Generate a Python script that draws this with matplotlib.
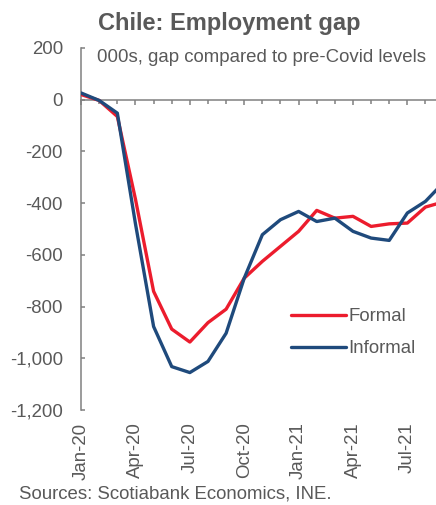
import numpy as np
import matplotlib
matplotlib.use('Agg')
import matplotlib.pyplot as plt
from matplotlib.ticker import FuncFormatter, MultipleLocator, NullFormatter

plt.rcParams['font.family'] = ['Liberation Sans', 'DejaVu Sans']

# monthly, Jan-20 .. Sep-21 (000s vs pre-Covid)
months = ['Jan-20', 'Feb-20', 'Mar-20', 'Apr-20', 'May-20', 'Jun-20', 'Jul-20',
          'Aug-20', 'Sep-20', 'Oct-20', 'Nov-20', 'Dec-20', 'Jan-21', 'Feb-21',
          'Mar-21', 'Apr-21', 'May-21', 'Jun-21', 'Jul-21', 'Aug-21', 'Sep-21']
formal = [20, -3, -65, -385, -741, -887, -937, -862, -810, -690, -625, -567,
          -509, -428, -458, -451, -490, -480, -477, -415, -395]
informal = [26, -3, -52, -480, -877, -1032, -1055, -1012, -903, -690, -522,
            -464, -432, -471, -458, -509, -535, -544, -438, -393, -320]
tick_months = ['Jan-20', 'Apr-20', 'Jul-20', 'Oct-20', 'Jan-21', 'Apr-21', 'Jul-21']

RED = '#EC1C2D'
BLUE = '#1F4A7C'
GREY = '#808080'
TXT = '#595959'
FS = 13.4

x = np.arange(len(months))
ymin, ymax = -1200, 200

fig = plt.figure(figsize=(4.36, 5.05), dpi=100)
ax = fig.add_axes([0.186, 0.188, 0.814, 0.717])

ax.set_ylim(ymin, ymax)
ax.set_xlim(0, 19.58)

for s in ['top', 'right', 'bottom']:
    ax.spines[s].set_visible(False)
ax.spines['left'].set_color(GREY)
ax.spines['left'].set_linewidth(1.1)

ax.yaxis.set_major_locator(MultipleLocator(200))
ax.yaxis.set_major_formatter(FuncFormatter(lambda v, p: '{:,.0f}'.format(v)))
ax.tick_params(axis='y', direction='in', length=3, width=1.1, color=GREY,
               labelsize=FS, labelcolor=TXT, pad=13)

# month labels sit at the bottom, the zero line carries the ticks
ax.set_xticks([months.index(m) for m in tick_months])
ax.set_xticklabels(tick_months, rotation=90)
ax.tick_params(axis='x', length=0, labelsize=FS, labelcolor=TXT, pad=9)

zero = ax.secondary_xaxis((0 - ymin) / (ymax - ymin))
zero.set_xticks(x[::3])
zero.set_xticks(x, minor=True)
zero.xaxis.set_major_formatter(NullFormatter())
zero.xaxis.set_minor_formatter(NullFormatter())
zero.xaxis.set_ticks_position('bottom')
zero.tick_params(which='both', direction='out', color=GREY, width=1.1)
zero.tick_params(which='major', length=3.6)
zero.tick_params(which='minor', length=2.6)
for sp in zero.spines.values():
    sp.set_color(GREY)
    sp.set_linewidth(1.1)

ax.plot(x, formal, color=RED, lw=2.4, label='Formal', solid_capstyle='round', zorder=3)
ax.plot(x, informal, color=BLUE, lw=2.4, label='Informal', solid_capstyle='round', zorder=3)

ax.text(0.045, 0.975, '000s, gap compared to pre-Covid levels', transform=ax.transAxes,
        ha='left', va='center', fontsize=FS, color=TXT)

ax.legend(loc='center left', bbox_to_anchor=(0.564, 0.213), frameon=False,
          fontsize=FS, handlelength=3.0, handletextpad=0.12, labelspacing=0.8,
          borderpad=0, labelcolor=TXT)

fig.text(0.525, 0.954, 'Chile: Employment gap', ha='center', va='center',
         fontsize=17, fontweight='bold', color=TXT)
fig.text(0.044, 0.022, 'Sources: Scotiabank Economics, INE.', ha='left', va='center',
         fontsize=FS, color=TXT)

fig.savefig('out.png', dpi=100)
